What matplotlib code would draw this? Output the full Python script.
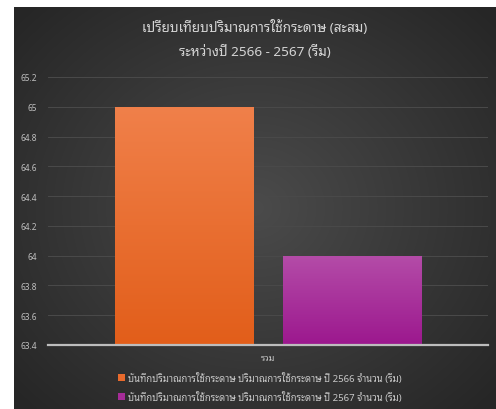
import matplotlib
matplotlib.use("Agg")
import matplotlib.pyplot as plt
import numpy as np
from matplotlib.ticker import FuncFormatter, MultipleLocator

plt.rcParams['font.family'] = ['Noto Sans Thai Looped', 'Noto Sans', 'DejaVu Sans']

title_lines = ["เปรียบเทียบปริมาณการใช้กระดาษ (สะสม)", "ระหว่างปี 2566 - 2567 (รีม)"]
categories = ["รวม"]
series_names = ["บันทึกปริมาณการใช้กระดาษ ปริมาณการใช้กระดาษ ปี 2566 จำนวน (รีม)",
                "บันทึกปริมาณการใช้กระดาษ ปริมาณการใช้กระดาษ ปี 2567 จำนวน (รีม)"]
values_2566 = [65]
values_2567 = [64]
y_min, y_max, y_step = 63.4, 65.2, 0.2

W, H = 496, 410
fig = plt.figure(figsize=(W / 100, H / 100), dpi=100)
fig.patch.set_facecolor('white')

# dark background with radial gradient
bg = fig.add_axes([14 / W, 0, 1 - 14 / W, (H - 8) / H])
bg.set_axis_off()
yy, xx = np.mgrid[-1:1:200j, -1:1:240j]
r = np.sqrt(xx ** 2 + (yy * 0.95) ** 2)
r = np.clip(r / 1.35, 0, 1)
c0 = np.array([0x4b, 0x4b, 0x4b]) / 255
c1 = np.array([0x26, 0x26, 0x26]) / 255
img = c0[None, None, :] * (1 - r[..., None]) + c1[None, None, :] * r[..., None]
bg.imshow(img, aspect='auto', extent=[0, 1, 0, 1], interpolation='bilinear')
bg.set_xlim(0, 1); bg.set_ylim(0, 1)

ax = fig.add_axes([48 / W, (H - 346) / H, (488 - 48) / W, (346 - 78) / H])
ax.patch.set_alpha(0)

x = np.arange(len(categories))
bw = 0.314
off = 0.191
b1 = ax.bar(x - off, values_2566, bw, color='#e86a2c', label=series_names[0], zorder=3)
b2 = ax.bar(x + off, values_2567, bw, color='#a62c98', label=series_names[1], zorder=3)

def grad_fill(bars, top, bottom):
    top = np.array(matplotlib.colors.to_rgb(top))
    bottom = np.array(matplotlib.colors.to_rgb(bottom))
    for p in bars:
        x0, y0 = p.get_x(), y_min
        x1, y1 = p.get_x() + p.get_width(), p.get_height()
        t = np.linspace(0, 1, 100)[:, None, None]
        g = top[None, None, :] * (1 - t) + bottom[None, None, :] * t
        g = np.repeat(g, 2, axis=1)
        im = ax.imshow(g, extent=[x0, x1, y0, y1], aspect='auto', zorder=4,
                       interpolation='bilinear')
        im.set_clip_path(p)

grad_fill(b1, '#f0804a', '#e25e1a')
grad_fill(b2, '#b44ca8', '#9c188e')

ax.set_xlim(-0.5, 0.5)
ax.set_ylim(y_min, y_max)
ax.yaxis.set_major_locator(MultipleLocator(y_step))
ax.yaxis.set_major_formatter(FuncFormatter(lambda v, p: f"{v:g}"))
ax.set_xticks(x)
ax.set_xticklabels(categories)
ax.grid(axis='y', color='#4a4a4a', lw=0.7, zorder=0)
for s in ['top', 'right', 'left']:
    ax.spines[s].set_visible(False)
ax.spines['bottom'].set_color('#bdbdbd')
ax.spines['bottom'].set_linewidth(1.6)
ax.spines['bottom'].set_zorder(5)
ax.tick_params(axis='y', length=0, labelsize=6, labelcolor='#c0c0c0', pad=8)
for lab in ax.get_yticklabels():
    lab.set_fontweight('bold')
ax.tick_params(axis='x', length=0, labelsize=6.5, labelcolor='#c8c8c8', pad=6)

cx = (14 + W) / 2 / W
fig.text(cx, 1 - 28 / H, title_lines[0], ha='center', va='center', fontsize=9.7,
         color='#d4d4d4', fontweight='bold')
fig.text(cx, 1 - 52 / H, title_lines[1], ha='center', va='center', fontsize=9.7,
         color='#d4d4d4', fontweight='bold')

leg = fig.legend(handles=[b1, b2], loc='center', bbox_to_anchor=(260 / W, 1 - 388 / H),
                 ncol=1, frameon=False, fontsize=6.9, labelcolor='#c8c8c8',
                 handlelength=0.7, handleheight=0.7, handletextpad=0.3, labelspacing=0.85)

fig.savefig("out.png", dpi=100, facecolor=fig.get_facecolor())
